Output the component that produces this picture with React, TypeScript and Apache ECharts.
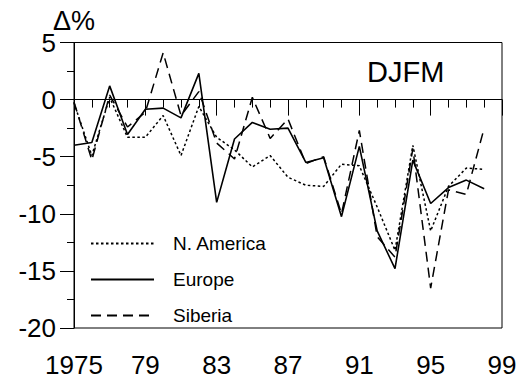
import React, { useEffect, useRef } from "react";
import * as echarts from "echarts";

const years = [1975,1976,1977,1978,1979,1980,1981,1982,1983,1984,1985,1986,1987,1988,1989,1990,1991,1992,1993,1994,1995,1996,1997,1998];
const northAmerica = [-0.3,-4.9,0.2,-3.3,-3.3,-1.4,-4.9,-0.6,-3.3,-4.4,-5.9,-4.9,-6.8,-7.5,-7.6,-5.65,-5.8,-9.4,-13.2,-4.0,-11.5,-7.6,-6.0,-6.1];
const europe = [-4.0,-3.75,1.2,-3.05,-0.85,-0.75,-1.6,2.3,-9.0,-3.45,-2.0,-2.6,-2.5,-5.5,-5.1,-10.25,-4.1,-11.5,-14.8,-5.3,-9.1,-7.7,-7.05,-7.8];
const siberia = [-0.2,-5.3,0.4,-2.4,-1.1,4.1,-1.4,0.7,-3.8,-5.2,0.2,-3.4,-1.7,-5.6,-5.0,-10.0,-2.7,-12.0,-13.8,-4.3,-16.5,-7.9,-8.3,-2.5];
const seriesNames = ["N. America", "Europe", "Siberia"];
const yTicks = { min: -20, max: 5, step: 5 };
const xTicks = { min: 1975, max: 1999, step: 4 };

export default function App() {
  const ref = useRef<HTMLDivElement>(null);
  useEffect(() => {
    if (!ref.current) return;
    const chart = echarts.init(ref.current, undefined, { renderer: "svg" });
    const pair = (vals: number[]) => years.map((y, i) => [y, vals[i]]);
    const font = "Arial, 'Liberation Sans', sans-serif";
    chart.setOption({
      animation: false,
      textStyle: { fontFamily: font, color: "#000" },
      grid: {
        left: 74, right: 15, top: 42.5, bottom: 50,
        show: true, borderColor: "#000", borderWidth: 1, backgroundColor: "transparent",
        outerBoundsMode: "none",
      },
      legend: {
        orient: "vertical",
        left: 85,
        top: 229,
        itemWidth: 63,
        itemHeight: 10,
        itemGap: 17,
        data: seriesNames,
        itemStyle: { opacity: 0 },
        textStyle: { fontSize: 19, color: "#000", fontFamily: font, padding: [0, 0, 0, 14] },
      },
      xAxis: {
        type: "value",
        min: xTicks.min,
        max: xTicks.max,
        interval: xTicks.step,
        splitLine: { show: false },
        axisLine: { lineStyle: { color: "#000", width: 1 } },
        axisTick: { inside: false, length: 16, lineStyle: { color: "#000" } },
        minorTick: { show: true, splitNumber: 4, length: 8, lineStyle: { color: "#000" } },
        axisLabel: {
          fontSize: 26,
          lineHeight: 26,
          color: "#000",
          margin: 23.5,
          fontFamily: font,
          alignMinLabel: "center",
          alignMaxLabel: "center",
          formatter: (v: number) => (v === 1975 ? "1975" : String(v % 100).padStart(2, "0")),
        },
      },
      yAxis: {
        type: "value",
        min: yTicks.min,
        max: yTicks.max,
        interval: yTicks.step,
        splitLine: { show: false },
        axisLine: { show: true, lineStyle: { color: "#000", width: 1 } },
        axisTick: { show: true, inside: false, length: 14, lineStyle: { color: "#000" } },
        minorTick: { show: true, splitNumber: 2, length: 7, lineStyle: { color: "#000" } },
        axisLabel: { fontSize: 26, color: "#000", margin: 18, fontFamily: font },
      },
      graphic: [
        { type: "text", left: 53, top: 7, style: { text: "Δ%", fontSize: 27, fill: "#000", fontFamily: font } },
        { type: "text", left: 367, top: 57, style: { text: "DJFM", fontSize: 29, fill: "#000", fontFamily: font } },
      ],
      series: [
        {
          name: seriesNames[0], type: "line", data: pair(northAmerica), symbol: "none",
          lineStyle: { color: "#000", width: 1.5, type: [2.5, 2.5] }, itemStyle: { color: "#000" },
          markLine: {
            silent: true, symbol: "none", label: { show: false },
            lineStyle: { color: "#000", width: 1, type: "solid" },
            data: [{ yAxis: 0 }],
          },
        },
        {
          name: seriesNames[1], type: "line", data: pair(europe), symbol: "none",
          lineStyle: { color: "#000", width: 1.6, type: "solid" }, itemStyle: { color: "#000" },
        },
        {
          name: seriesNames[2], type: "line", data: pair(siberia), symbol: "none",
          lineStyle: { color: "#000", width: 1.5, type: [10, 6] }, itemStyle: { color: "#000" },
        },
      ],
    });
    return () => chart.dispose();
  }, []);
  return <div ref={ref} style={{ width: 517, height: 378, position: "absolute", left: 0, top: 0 }} />;
}
